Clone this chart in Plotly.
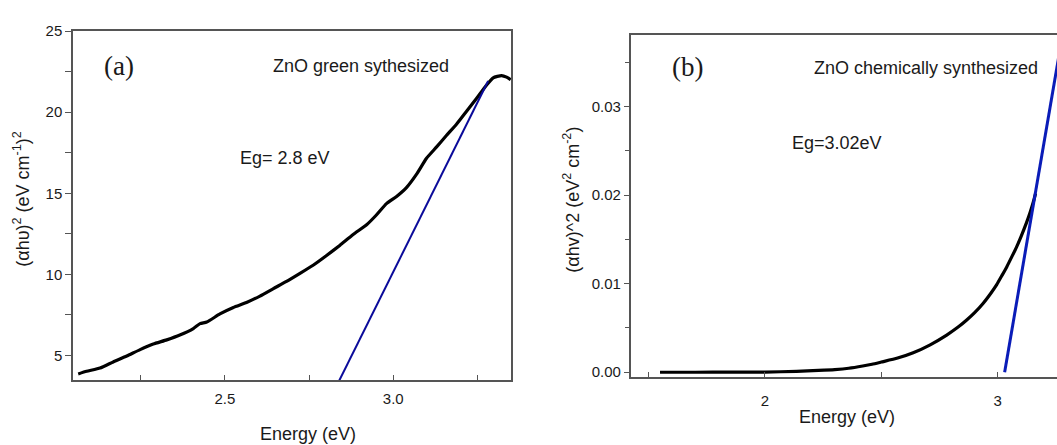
import plotly.graph_objects as go

# ---------------- data ----------------
# Panel (a): ZnO green synthesized
energy_a = [2.064, 2.089, 2.129, 2.168, 2.208, 2.248, 2.287, 2.327, 2.366, 2.406,
            2.426, 2.446, 2.485, 2.525, 2.564, 2.604, 2.644, 2.683, 2.723, 2.762,
            2.802, 2.842, 2.881, 2.921, 2.950, 2.980, 3.010, 3.040, 3.069, 3.099,
            3.129, 3.158, 3.188, 3.218, 3.248, 3.277, 3.297, 3.322, 3.337, 3.349]
tauc_a = [3.86, 4.02, 4.22, 4.60, 4.96, 5.36, 5.70, 5.96, 6.26, 6.66,
          6.96, 7.06, 7.56, 7.96, 8.26, 8.66, 9.12, 9.56, 10.06, 10.56,
          11.16, 11.80, 12.46, 13.06, 13.66, 14.36, 14.80, 15.36, 16.16, 17.16,
          17.86, 18.56, 19.26, 20.06, 20.86, 21.66, 22.12, 22.26, 22.16, 22.00]
fit_energy_a = [2.757, 3.282]
fit_tauc_a = [0.0, 21.92]

# Panel (b): ZnO chemically synthesized
energy_b = [1.549, 1.70, 1.85, 2.00, 2.136, 2.23, 2.30, 2.36, 2.42, 2.46, 2.50, 2.57, 2.637,
            2.71, 2.781, 2.83, 2.867, 2.90, 2.938, 2.97, 2.996, 3.02, 3.039,
            3.06, 3.082, 3.10, 3.124, 3.14, 3.153, 3.163]
tauc_b = [0.0, 0.0, 0.00001, 0.00002, 0.0001, 0.0002, 0.0003, 0.00045, 0.0007, 0.0009, 0.00115, 0.0016, 0.0022,
          0.0031, 0.0042, 0.0051, 0.0059, 0.0067, 0.0078, 0.0089, 0.0099, 0.0110, 0.0119,
          0.0130, 0.0142, 0.0153, 0.0169, 0.0181, 0.0192, 0.0202]
fit_energy_b = [3.030, 3.30]
fit_tauc_b = [0.0, 0.0414]

W, H = 1057, 445


def px(x):
    return x / W


def py(y):
    return 1 - y / H


AX_COLOR = "#555555"
TXT = "#1a1a1a"
SANS = "Liberation Sans, Arial, sans-serif"
SERIF = "Liberation Serif, Times New Roman, serif"

fig = go.Figure()
fig.add_trace(go.Scatter(x=energy_a, y=tauc_a, mode="lines",
                         line=dict(color="#000000", width=3.2, shape="spline", smoothing=0.5),
                         xaxis="x", yaxis="y", showlegend=False))
fig.add_trace(go.Scatter(x=fit_energy_a, y=fit_tauc_a, mode="lines",
                         line=dict(color="#0a0a9a", width=2),
                         xaxis="x", yaxis="y", showlegend=False))
fig.add_trace(go.Scatter(x=energy_b, y=tauc_b, mode="lines",
                         line=dict(color="#000000", width=3.2, shape="spline", smoothing=0.6),
                         xaxis="x2", yaxis="y2", showlegend=False))
fig.add_trace(go.Scatter(x=fit_energy_b, y=fit_tauc_b, mode="lines",
                         line=dict(color="#0a1cb8", width=3),
                         xaxis="x2", yaxis="y2", showlegend=False))

common_axis = dict(showgrid=False, zeroline=False, showline=True,
                   linecolor=AX_COLOR, linewidth=1.5, tickcolor=AX_COLOR,
                   tickfont=dict(family=SANS, size=15, color=TXT))

fig.update_layout(
    width=W, height=H,
    margin=dict(l=0, r=0, t=0, b=0),
    paper_bgcolor="white", plot_bgcolor="white",
    xaxis=dict(domain=[px(73), px(511)], range=[2.0485, 3.35], anchor="y",
               tickmode="linear", tick0=2.5, dtick=0.5, tickformat=".1f",
               ticks="inside", ticklen=6, mirror=True, ticklabelstandoff=4,
               minor=dict(ticks="inside", ticklen=6, dtick=0.25, tick0=2.25,
                          tickcolor=AX_COLOR),
               **common_axis),
    yaxis=dict(domain=[py(381.7), py(22.7)], range=[3.46, 25], anchor="x",
               tickmode="linear", tick0=5, dtick=5,
               ticks="outside", ticklen=6, mirror=True,
               minor=dict(ticks="outside", ticklen=6, dtick=2.5, tick0=2.5,
                          tickcolor=AX_COLOR),
               **common_axis),
    xaxis2=dict(domain=[px(630.7), 1.0], range=[1.423, 3.255], anchor="y2",
                tickmode="linear", tick0=2, dtick=1,
                ticks="inside", ticklen=5, mirror=True, ticklabelstandoff=9,
                minor=dict(ticks="inside", ticklen=5, dtick=0.5, tick0=1.5,
                           tickcolor=AX_COLOR),
                **common_axis),
    yaxis2=dict(domain=[py(378.3), py(26.7)], range=[-0.00055, 0.0381], anchor="x2",
                tickmode="linear", tick0=0, dtick=0.01, tickformat=".2f",
                ticks="outside", ticklen=5, mirror=False,
                minor=dict(ticks="outside", ticklen=4, dtick=0.005, tick0=0.005,
                           tickcolor=AX_COLOR),
                **common_axis),
)

annotations = [
    # panel (a)
    dict(text="(a)", x=px(119), y=py(59), font=dict(family=SERIF, size=27, color=TXT)),
    dict(text="ZnO green sythesized", x=px(361), y=py(59), font=dict(family=SANS, size=18, color=TXT)),
    dict(text="Eg= 2.8 eV", x=px(285), y=py(153), font=dict(family=SANS, size=18, color=TXT)),
    dict(text="Energy (eV)", x=px(308), y=py(437), font=dict(family=SANS, size=18, color=TXT)),
    dict(text="(αhυ)<sup>2</sup> (eV cm<sup>-1</sup>)<sup>2</sup>", x=px(22), y=py(195),
         textangle=-90, font=dict(family=SANS, size=18, color=TXT)),
    # panel (b)
    dict(text="(b)", x=px(687), y=py(60), font=dict(family=SERIF, size=27, color=TXT)),
    dict(text="ZnO chemically synthesized", x=px(926), y=py(61), font=dict(family=SANS, size=18, color=TXT)),
    dict(text="Eg=3.02eV", x=px(837), y=py(138), font=dict(family=SANS, size=18, color=TXT)),
    dict(text="Energy (eV)", x=px(847), y=py(419), font=dict(family=SANS, size=18, color=TXT)),
    dict(text="(αhv)^2 (eV<sup>2</sup> cm<sup>-2</sup>)", x=px(572), y=py(196),
         textangle=-90, font=dict(family=SANS, size=18, color=TXT)),
]
for a in annotations:
    a.update(xref="paper", yref="paper", showarrow=False, xanchor="center", yanchor="middle")
fig.update_layout(annotations=annotations)

fig.write_html("out.html")
